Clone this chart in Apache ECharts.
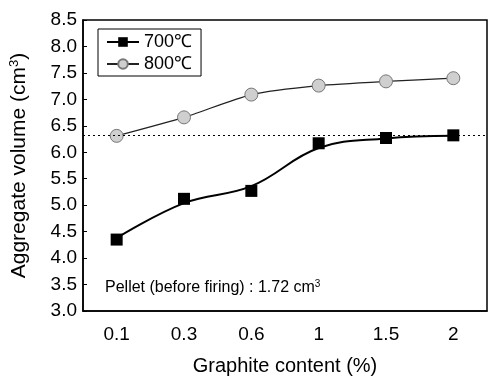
<!DOCTYPE html>
<html><head><meta charset="utf-8">
<script src="https://cdn.jsdelivr.net/npm/echarts@6/dist/echarts.min.js"></script>
<style>html,body{margin:0;padding:0;background:#fff}#c{width:488px;height:381px}</style>
</head><body><div id="c"></div>
<script>
const categories = ['0.1', '0.3', '0.6', '1', '1.5', '2'];
const series700 = [4.35, 5.12, 5.27, 6.17, 6.27, 6.32];
const fit700 = [4.38, 5.04, 5.36, 6.08, 6.26, 6.31];   // fitted curve drawn in the figure, read at each category
const series800 = [6.31, 6.66, 7.09, 7.26, 7.34, 7.40];
const refLine = 6.32;
const yMin = 3.0, yMax = 8.5, yStep = 0.5;
const F = 'Liberation Sans, Arial, sans-serif';
const FN = 'Liberation Sans Narrow, Arial Narrow, sans-serif';

const chart = echarts.init(document.getElementById('c'), null, {renderer: 'canvas'});
chart.setOption({
  animation: false,
  backgroundColor: '#fff',
  grid: {left: 83, right: 1, top: 20, bottom: 68, show: true, borderColor: '#000', borderWidth: 1.5, backgroundColor: 'transparent'},
  legend: {
    left: 98, top: 29, orient: 'vertical',
    borderColor: '#000', borderWidth: 1, padding: [4, 9, 3, 8], itemGap: 4,
    itemWidth: 32, itemHeight: 12,
    textStyle: {fontFamily: F, fontSize: 18, color: '#000'},
    data: [
      {name: '700℃', lineStyle: {opacity: 1, width: 2, color: '#000', type: 'solid'}},
      {name: '800℃'}
    ]
  },
  xAxis: [{
    type: 'category', data: categories, boundaryGap: true,
    name: 'Graphite content (%)', nameLocation: 'middle', nameGap: 45,
    nameTextStyle: {fontFamily: F, fontSize: 20, color: '#000'},
    axisLine: {lineStyle: {color: '#000', width: 1.5}},
    axisTick: {inside: true, alignWithLabel: true, length: 5, lineStyle: {color: '#000'}},
    axisLabel: {fontFamily: F, fontSize: 19, color: '#000', margin: 14},
    splitLine: {show: false}
  }, {
    type: 'category', data: categories, boundaryGap: true, position: 'bottom',
    axisLine: {show: false},
    axisTick: {inside: true, length: 3, lineStyle: {color: '#000'}},
    axisLabel: {show: false}, splitLine: {show: false}
  }],
  yAxis: {
    type: 'value', min: yMin, max: yMax, interval: yStep,
    name: 'Aggregate volume (cm{sup|3})', nameLocation: 'middle', nameGap: 52,
    nameTextStyle: {fontFamily: F, fontSize: 21, color: '#000',
      rich: {sup: {fontFamily: F, fontSize: 13, color: '#000', verticalAlign: 'top', padding: [0, 0, 10, 0]}}},
    axisLine: {show: true, lineStyle: {color: '#000', width: 1.5}},
    axisTick: {show: true, inside: true, length: 4, lineStyle: {color: '#000'}},
    axisLabel: {fontFamily: F, fontSize: 19, color: '#000', margin: 6, formatter: v => v.toFixed(1)},
    splitLine: {show: false}
  },
  series: [{
    name: 'fit700', type: 'line', data: fit700, smooth: 0.4,
    showSymbol: false, symbol: 'none', silent: true, z: 2,
    lineStyle: {color: '#000', width: 2},
    markLine: {
      silent: true, symbol: 'none', label: {show: false},
      lineStyle: {color: '#000', type: [2, 3], width: 1},
      data: [{yAxis: refLine}]
    }
  }, {
    name: '700℃', type: 'line', data: series700, z: 3,
    symbol: 'rect', symbolSize: 12,
    itemStyle: {color: '#000'}, lineStyle: {opacity: 0, width: 2, color: '#000'}
  }, {
    name: '800℃', type: 'line', data: series800, smooth: 0.2, z: 3,
    symbol: 'circle', symbolSize: 13,
    itemStyle: {color: '#cfcfcf', borderColor: '#777', borderWidth: 1},
    lineStyle: {color: '#222', width: 1.3}
  }],
  graphic: [{
    type: 'text', left: 105, top: 279,
    style: {
      text: 'Pellet (before firing) : 1.72 cm{s|3}',
      rich: {s: {fontSize: 10, verticalAlign: 'top', padding: [0, 0, 7, 0], fontFamily: FN}},
      fontFamily: FN, fontSize: 16, fill: '#000'
    }
  }]
});
</script></body></html>
